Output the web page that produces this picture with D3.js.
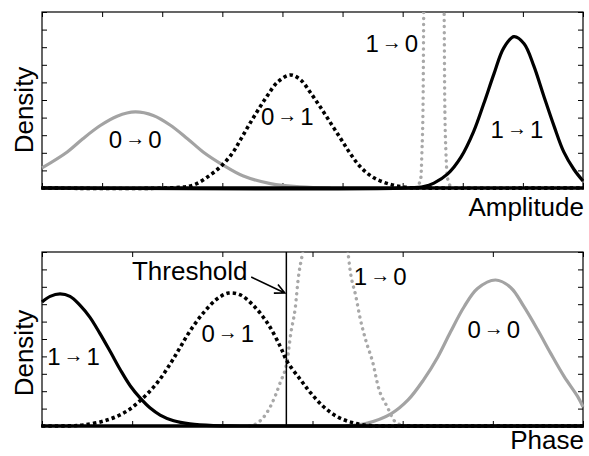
<!DOCTYPE html>
<html>
<head>
<meta charset="utf-8">
<script src="https://cdn.jsdelivr.net/npm/d3@7.9.0/dist/d3.min.js"></script>
<style>
  html, body { margin: 0; padding: 0; background: #fff; }
  svg { display: block; font-family: "Liberation Sans", Arial, Helvetica, sans-serif; }
</style>
</head>
<body>
<div id="chart"></div>
<script>
// ---- data: [x (tick units), density (tick units)] ----

// top panel: Amplitude
const amp00 = [[0,1.14],[0.42,2.05],[0.68,2.8],[0.97,3.55],[1.25,4.08],[1.55,4.32],[1.85,4.12],
  [2.13,3.58],[2.42,2.8],[2.68,2.05],[3.0,1.33],[3.35,0.68],[3.8,0.25],[4.3,0.06],[4.8,0]];
const amp01 = [[0,0],[2.2,0.02],[2.52,0.17],[2.8,0.74],[3.0,1.31],[3.17,1.99],[3.3,2.73],[3.43,3.5],
  [3.58,4.35],[3.75,5.25],[3.92,6.02],[4.13,6.42],[4.3,6.15],[4.47,5.4],[4.63,4.6],[4.8,3.7],[4.97,2.8],
  [5.13,1.95],[5.3,1.19],[5.52,0.58],[5.8,0.2],[6.08,0.03],[6.3,0],[9,0]];
const amp10 = [[6.22,0],[6.3,0.5],[6.32,2],[6.34,5],[6.35,10],[6.37,14],[6.52,30],
  [6.67,14],[6.69,10],[6.7,5],[6.72,2],[6.75,0.5],[6.82,0]];
const amp11 = [[0,0],[6.1,0],[6.35,0.08],[6.52,0.28],[6.75,0.8],[6.97,1.75],[7.18,3.2],[7.35,4.8],[7.52,6.5],
  [7.68,7.95],[7.85,8.6],[8.02,8.2],[8.18,6.95],[8.35,5.2],[8.52,3.5],[8.68,2.05],[8.85,1.05],[9,0.4]];

// bottom panel: Phase
const ph11 = [[0,7.13],[0.09,7.45],[0.2,7.59],[0.31,7.45],[0.42,6.95],[0.53,6.26],[0.64,5.34],
  [0.76,4.25],[0.87,3.22],[0.98,2.3],[1.09,1.6],[1.2,1.03],[1.31,0.63],[1.46,0.3],[1.64,0.12],
  [1.9,0.02],[2.2,0],[6,0]];
const ph01 = [[0,0],[0.3,0.01],[0.46,0.06],[0.72,0.34],[0.94,0.85],[1.12,1.61],[1.28,2.5],[1.42,3.55],
  [1.53,4.5],[1.64,5.45],[1.79,6.5],[1.94,7.3],[2.07,7.64],[2.2,7.53],[2.34,6.95],[2.5,5.92],
  [2.64,4.6],[2.72,3.7],[2.87,2.64],[2.98,1.9],[3.12,1.12],[3.28,0.52],[3.46,0.17],[3.64,0.02],
  [3.8,0],[6,0]];
const ph10 = [[2.3,0],[2.39,0.17],[2.53,1.09],[2.64,2.47],[2.72,3.79],[2.76,5.34],[2.81,6.84],
  [2.84,8.39],[2.89,9.94],[2.95,11.5],[3.12,16],[3.33,11.6],[3.39,10.1],[3.42,8.85],[3.48,7.47],
  [3.53,6.15],[3.59,4.94],[3.67,3.62],[3.73,2.24],[3.83,1.09],[3.92,0.23],[4.03,0]];
const ph00 = [[3.37,0],[3.61,0.17],[3.87,0.7],[4.06,1.5],[4.23,2.64],[4.39,3.97],[4.53,5.4],
  [4.68,6.84],[4.83,7.9],[5.03,8.39],[5.2,7.95],[5.34,6.9],[5.5,5.5],[5.64,4.19],[5.79,2.85],
  [5.94,1.7],[6.0,1.1]];

const thresholdPhase = 2.71;

const W = 589, H = 456;
const svg = d3.select('#chart').append('svg').attr('width', W).attr('height', H);

const styles = {
  graySolid: { stroke: '#a3a3a3', width: 3.2, dash: null, cap: 'butt', curve: d3.curveCatmullRom },
  grayDots:  { stroke: '#a8a8a8', width: 3.4, dash: '0.1,6', cap: 'round', curve: d3.curveMonotoneX },
  blackDots: { stroke: '#000', width: 3.6, dash: '3.4,3', cap: 'butt', curve: d3.curveCatmullRom },
  blackSolid:{ stroke: '#000', width: 3.2, dash: null, cap: 'butt', curve: d3.curveCatmullRom }
};

function drawPanel(id, top, bottom, xMax, series, xLabel, labels, labelY) {
  const left = 42, right = 583;
  const x = d3.scaleLinear().domain([0, xMax]).range([left, right]);
  const y = d3.scaleLinear().domain([0, 10]).range([bottom, top]);
  const g = svg.append('g');

  g.append('clipPath').attr('id', id)
    .append('rect').attr('x', left - 2).attr('y', top).attr('width', right - left + 4).attr('height', bottom - top + 3);

  // inward ticks on all four sides
  const tk = 5;
  g.append('g').attr('transform', `translate(0,${top})`)
    .call(d3.axisTop(x).ticks(xMax).tickSize(-tk).tickSizeOuter(0).tickFormat(''));
  g.append('g').attr('transform', `translate(0,${bottom})`)
    .call(d3.axisBottom(x).ticks(xMax).tickSize(-tk).tickSizeOuter(0).tickFormat(''));
  g.append('g').attr('transform', `translate(${left},0)`)
    .call(d3.axisLeft(y).ticks(10).tickSize(-tk).tickSizeOuter(0).tickFormat(''));
  g.append('g').attr('transform', `translate(${right},0)`)
    .call(d3.axisRight(y).ticks(10).tickSize(-tk).tickSizeOuter(0).tickFormat(''));
  g.selectAll('.domain').remove();
  g.selectAll('.tick line').attr('stroke', '#000').attr('stroke-width', 1);

  g.append('rect').attr('x', left).attr('y', top).attr('width', right - left).attr('height', bottom - top)
    .attr('fill', 'none').attr('stroke', '#000').attr('stroke-width', 1.2);

  const curves = g.append('g').attr('clip-path', `url(#${id})`);
  series.forEach(([data, st]) => {
    const s = styles[st];
    const line = d3.line().x(d => x(d[0])).y(d => y(d[1])).curve(s.curve);
    curves.append('path').datum(data).attr('d', line)
      .attr('fill', 'none').attr('stroke', s.stroke).attr('stroke-width', s.width)
      .attr('stroke-dasharray', s.dash).attr('stroke-linecap', s.cap).attr('stroke-linejoin', 'round');
  });

  // heavy baseline where all the densities sit at zero
  g.append('line').attr('x1', left - 1).attr('x2', right + 1).attr('y1', bottom).attr('y2', bottom)
    .attr('stroke', '#000').attr('stroke-width', 3.5);

  // axis labels
  g.append('text').attr('transform', `translate(33,${labelY}) rotate(-90)`)
    .attr('text-anchor', 'middle').attr('font-size', 26).text('Density');
  g.append('text').attr('x', right + 1).attr('y', xLabel.y)
    .attr('text-anchor', 'end').attr('font-size', 26).text(xLabel.text);

  // transition labels "a → b"
  labels.forEach(l => {
    const t = g.append('text').attr('x', x(l.at[0])).attr('y', y(l.at[1]))
      .attr('text-anchor', 'middle').attr('font-size', 24);
    t.append('tspan').text(l.from);
    t.append('tspan').attr('font-size', 20).attr('font-weight', 'bold')
      .attr('dx', 3).attr('dy', -3).text('→');
    t.append('tspan').attr('dx', 3).attr('dy', 3).text(l.to);
  });
  return { x, y, g };
}

drawPanel('clipTop', 12, 188, 9,
  [[amp00, 'graySolid'], [amp10, 'grayDots'], [amp01, 'blackDots'], [amp11, 'blackSolid']],
  { text: 'Amplitude', y: 216 },
  [{ from: '0', to: '0', at: [1.55, 2.27] }, { from: '0', to: '1', at: [4.08, 3.58] },
   { from: '1', to: '0', at: [5.82, 7.73] }, { from: '1', to: '1', at: [7.9, 2.84] }], 110);

const bot = drawPanel('clipBot', 252, 426, 6,
  [[ph00, 'graySolid'], [ph10, 'grayDots'], [ph01, 'blackDots'], [ph11, 'blackSolid']],
  { text: 'Phase', y: 449 },
  [{ from: '1', to: '1', at: [0.35, 3.5] }, { from: '0', to: '1', at: [2.06, 4.83] },
   { from: '1', to: '0', at: [3.75, 8.1] }, { from: '0', to: '0', at: [5.01, 5.06] }], 353);

// threshold marker
bot.g.append('line')
  .attr('x1', bot.x(thresholdPhase)).attr('x2', bot.x(thresholdPhase))
  .attr('y1', bot.y(10)).attr('y2', bot.y(0))
  .attr('stroke', '#000').attr('stroke-width', 1.5);
bot.g.append('text').attr('x', bot.x(2.28)).attr('y', bot.y(8.39))
  .attr('text-anchor', 'end').attr('font-size', 26).text('Threshold');

const ax0 = bot.x(2.32), ay0 = bot.y(8.56), ax1 = bot.x(thresholdPhase) - 1.5, ay1 = bot.y(7.64);
const ang = Math.atan2(ay1 - ay0, ax1 - ax0), hl = 11;
bot.g.append('path')
  .attr('d', `M${ax0},${ay0}L${ax1},${ay1}` +
    `M${ax1 - hl * Math.cos(ang - 0.45)},${ay1 - hl * Math.sin(ang - 0.45)}L${ax1},${ay1}` +
    `L${ax1 - hl * Math.cos(ang + 0.45)},${ay1 - hl * Math.sin(ang + 0.45)}`)
  .attr('fill', 'none').attr('stroke', '#000').attr('stroke-width', 1.6);
</script>
</body>
</html>
